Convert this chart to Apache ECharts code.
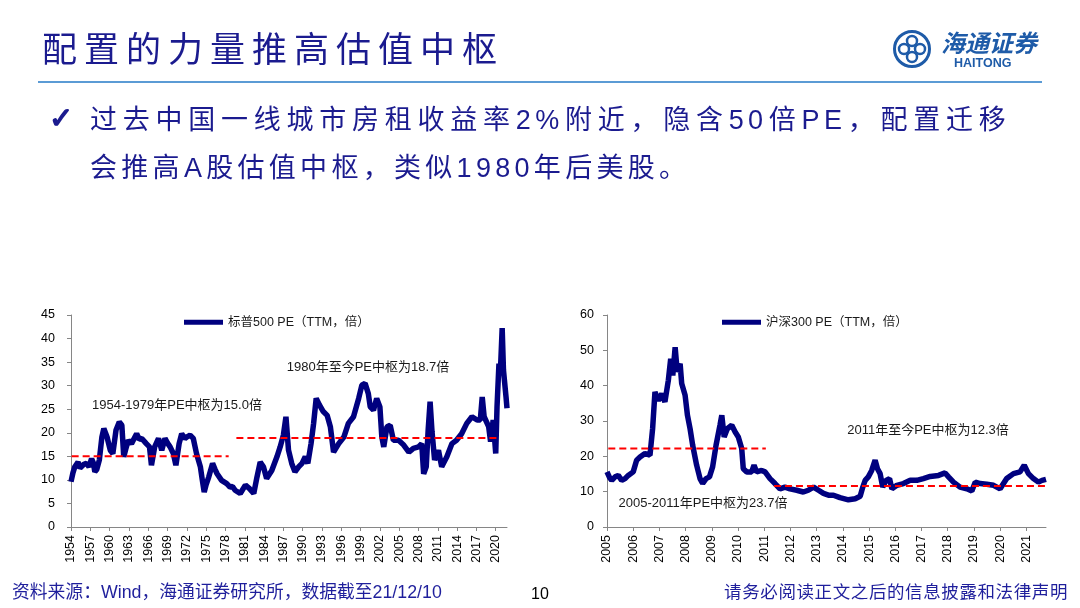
<!DOCTYPE html>
<html>
<head>
<meta charset="utf-8">
<script src="https://cdn.jsdelivr.net/npm/echarts@6/dist/echarts.min.js"></script>
<style>
  body { margin: 0; background: #fff; }
  #page { position: relative; width: 1080px; height: 608px; overflow: hidden; background: #fff; }
  #chart { position: absolute; left: 0; top: 0; width: 1080px; height: 608px; }
  .txt { position: absolute; white-space: nowrap; font-family: "Liberation Sans", "Noto Sans CJK SC", sans-serif; }
  #title { left: 42px; top: 30px; font-size: 35px; line-height: 40px; letter-spacing: 7px; color: #1b1b8f; }
  #rule { position: absolute; left: 38px; top: 81px; width: 1004px; height: 2px; background: #5b9bd5; }
  #check { left: 49px; top: 99px; font-size: 29px; line-height: 38px; font-weight: bold; color: #1b1b8f; -webkit-text-stroke: 1.4px #1b1b8f; font-family: "DejaVu Sans", sans-serif; }
  .bullet { font-size: 27px; line-height: 48px; letter-spacing: 4.3px; color: #1b1b8f; }
  #line1 { left: 90px; top: 96px; width: 920px; white-space: normal; text-align: justify; text-align-last: justify; }
  #line2 { left: 90px; top: 144px; }
  #source { left: 12px; top: 581px; font-size: 17.8px; line-height: 22px; color: #1f1f9c; }
  #pageno { left: 531px; top: 584px; font-size: 16px; line-height: 20px; color: #000; }
  #notice { right: 12px; top: 581px; font-size: 17.5px; line-height: 22px; letter-spacing: 0.6px; color: #1f1f9c; }
  #logoCn { left: 941px; top: 30px; font-size: 24px; line-height: 28px; font-style: italic; font-weight: bold; color: #1e5ba8; }
  #logoEn { left: 954px; top: 56px; font-size: 12.5px; line-height: 15px; font-weight: bold; color: #1e5ba8; }
  #logoMark { position: absolute; left: 892px; top: 29px; }
</style>
</head>
<body>
<div id="page">
  <div id="chart"></div>
  <div class="txt" id="title">配置的力量推高估值中枢</div>
  <div id="rule"></div>
  <svg id="logoMark" width="40" height="40" viewBox="0 0 40 40">
    <circle cx="20" cy="20" r="17.5" fill="none" stroke="#1e5ba8" stroke-width="3"/>
    <circle cx="20" cy="12" r="5" fill="none" stroke="#1e5ba8" stroke-width="2.5"/>
    <circle cx="20" cy="28" r="5" fill="none" stroke="#1e5ba8" stroke-width="2.5"/>
    <circle cx="12" cy="20" r="5" fill="none" stroke="#1e5ba8" stroke-width="2.5"/>
    <circle cx="28" cy="20" r="5" fill="none" stroke="#1e5ba8" stroke-width="2.5"/>
  </svg>
  <div class="txt" id="logoCn">海通证券</div>
  <div class="txt" id="logoEn">HAITONG</div>
  <div class="txt" id="check">✓</div>
  <div class="txt bullet" id="line1">过去中国一线城市房租收益率2%附近，隐含50倍PE，配置迁移</div>
  <div class="txt bullet" id="line2">会推高A股估值中枢，类似1980年后美股。</div>
  <div class="txt" id="source">资料来源：Wind，海通证券研究所，数据截至21/12/10</div>
  <div class="txt" id="pageno">10</div>
  <div class="txt" id="notice">请务必阅读正文之后的信息披露和法律声明</div>
</div>
<script>
// S&P 500 PE (TTM), decimal years
var spxYears = [1954.0, 1954.3, 1954.6, 1955.1, 1955.4, 1955.7, 1956.0, 1956.4, 1956.8, 1957.2, 1957.5, 1957.7, 1958.0, 1958.4,
  1958.8, 1959.1, 1959.6, 1960.1, 1960.5, 1961.0, 1961.5, 1961.9, 1962.2, 1962.5, 1962.9, 1963.4, 1964.2, 1964.6, 1965.0,
  1965.7, 1966.2, 1966.5, 1967.0, 1967.6, 1968.1, 1968.6, 1969.0, 1969.4, 1969.9, 1970.3, 1970.8, 1971.2, 1971.7, 1972.1,
  1972.5, 1973.0, 1973.5, 1974.1, 1974.4, 1974.7, 1975.0, 1975.4, 1976.0, 1976.4, 1976.7, 1977.4, 1978.2, 1978.7, 1979.1,
  1979.5, 1980.3, 1981.1, 1981.7, 1982.4, 1982.9, 1983.4, 1983.9, 1984.4, 1985.2, 1986.0, 1986.5, 1987.0, 1987.4, 1987.8,
  1988.3, 1988.8, 1989.4, 1989.9, 1990.4, 1990.8, 1991.3, 1991.7, 1992.1, 1992.6, 1993.2, 1993.8, 1994.3, 1994.8, 1995.6,
  1996.4, 1997.1, 1997.9, 1998.7, 1999.2, 1999.7, 2000.2, 2000.5, 2001.0, 2001.5, 2002.0, 2002.3, 2002.6, 2003.1, 2003.6,
  2004.1, 2004.9, 2005.7, 2006.5, 2007.2, 2008.0, 2008.5, 2008.8, 2009.2, 2009.5, 2009.8, 2010.1, 2010.5, 2011.1, 2011.6,
  2012.4, 2013.2, 2013.9, 2014.7, 2015.5, 2016.3, 2017.1, 2017.6, 2017.9, 2018.2, 2018.9, 2019.2, 2019.6, 2020.0, 2020.2,
  2020.5, 2020.7, 2021.0, 2021.2, 2021.6, 2021.75];
var spxPE = [9.6, 11.5, 12.8, 13.8, 12.5, 12.8, 13.3, 13.5, 12.8, 14.5, 13.5, 11.7, 12.2, 14.2,
  19.1, 20.9, 19.1, 16.3, 15.6, 20.6, 22.3, 21.6, 14.9, 16.5, 18.4, 17.7, 19.8, 18.6, 18.8,
  17.7, 17.0, 13.1, 17.0, 18.8, 16.3, 18.8, 17.8, 17.0, 15.6, 13.1, 17.7, 19.8, 18.8, 19.2,
  19.5, 18.8, 15.6, 12.8, 10.0, 7.4, 9.0, 10.6, 13.5, 12.2, 11.3, 9.9, 9.2, 8.5, 8.6,
  7.8, 7.1, 8.9, 8.2, 7.1, 10.6, 13.8, 12.8, 10.3, 12.0, 14.9, 17.0, 19.5, 23.4, 16.3,
  13.5, 11.7, 12.8, 13.5, 14.9, 13.5, 17.7, 22.0, 27.3, 25.9, 24.5, 23.7, 21.3, 15.9, 17.7,
  19.1, 22.0, 23.4, 27.3, 30.1, 30.5, 28.3, 25.5, 24.8, 27.3, 25.5, 19.1, 17.0, 21.3, 21.6,
  18.4, 18.4, 17.4, 15.9, 16.7, 17.0, 17.7, 11.3, 12.8, 20.6, 26.6, 20.2, 14.2, 16.3, 12.8,
  14.9, 17.7, 18.4, 19.8, 22.0, 23.4, 22.7, 22.7, 27.6, 23.4, 21.3, 18.1, 22.7, 15.6, 25.5,
  34.7, 32.2, 42.2, 33.3, 27.6, 25.2];

// CSI 300 PE (TTM), decimal years
var csiYears = [2005.0, 2005.1, 2005.18, 2005.31, 2005.43, 2005.56, 2005.69, 2005.81, 2006.0, 2006.13, 2006.26, 2006.45,
  2006.64, 2006.74, 2006.83, 2006.96, 2007.09, 2007.21, 2007.34, 2007.43, 2007.51, 2007.6, 2007.68, 2007.79, 2007.85,
  2007.98, 2008.07, 2008.17, 2008.27, 2008.42, 2008.55, 2008.65, 2008.78, 2008.91, 2009.03, 2009.16, 2009.31, 2009.38,
  2009.47, 2009.59, 2009.76, 2009.89, 2010.01, 2010.14, 2010.2, 2010.33, 2010.52, 2010.61, 2010.71, 2010.9, 2011.03,
  2011.22, 2011.41, 2011.6, 2011.79, 2011.98, 2012.24, 2012.49, 2012.68, 2012.88, 2013.07, 2013.26, 2013.45, 2013.64,
  2013.89, 2014.21, 2014.47, 2014.66, 2014.76, 2014.85, 2014.97, 2015.1, 2015.23, 2015.32, 2015.42, 2015.52, 2015.65,
  2015.78, 2015.87, 2016.06, 2016.31, 2016.57, 2016.82, 2017.07, 2017.33, 2017.65, 2017.9, 2018.03, 2018.22, 2018.47,
  2018.73, 2018.92, 2019.05, 2019.24, 2019.49, 2019.75, 2020.0, 2020.25, 2020.51, 2020.76, 2020.92, 2021.08, 2021.27,
  2021.46, 2021.6, 2021.75];
var csiPE = [15.6, 14.0, 13.2, 14.2, 14.6, 13.2, 13.7, 14.6, 15.6, 18.9, 19.8, 20.8,
  20.3, 27.8, 38.2, 35.8, 37.7, 35.4, 41.5, 47.6, 42.9, 50.9, 43.9, 46.2, 40.6,
  37.3, 31.6, 27.8, 23.1, 17.5, 13.7, 12.3, 13.7, 14.2, 17.0, 23.1, 28.8, 31.6,
  25.5, 27.8, 28.8, 26.9, 25.5, 22.2, 16.5, 15.6, 15.6, 17.5, 15.6, 16.0, 15.6,
  13.7, 12.3, 10.8, 11.3, 10.8, 10.4, 9.9, 10.4, 11.3, 10.4, 9.5, 9.0, 9.0,
  8.3, 7.7, 8.0, 8.7, 11.3, 13.2, 14.2, 16.0, 18.9, 16.5, 15.1, 11.3, 13.2,
  13.7, 10.8, 11.8, 12.3, 13.2, 13.2, 13.7, 14.3, 14.6, 15.3, 14.2, 12.7, 11.3,
  10.8, 10.2, 12.7, 12.3, 12.1, 11.8, 10.8, 13.7, 15.1, 15.6, 17.5, 15.1, 13.7,
  12.7, 13.2, 13.5];

// central PE levels drawn as dashed segments: [startYear, endYear, level]
var spxCenters = [[1954.1, 1978.5, 15.0], [1979.7, 2020.7, 18.9]];
var csiCenters = [[2005.05, 2011.06, 22.2], [2011.37, 2021.75, 11.6]];

var spxBase = 1954, spxEnd = 2021.75;
var csiBase = 2005, csiEnd = 2021.75;

var spxName = '标普500 PE（TTM，倍）';
var csiName = '沪深300 PE（TTM，倍）';

var navy = '#00007f';
var axisGray = '#868686';
var latin = '"Liberation Sans", "Noto Sans CJK SC", sans-serif';

function toPairs(years, values, base) {
  var out = [];
  for (var i = 0; i < years.length; i++) {
    out.push([years[i] - base, values[i]]);
  }
  return out;
}

function centerSeries(centers, base, axisIdx) {
  return centers.map(function (c) {
    return {
      type: 'line',
      xAxisIndex: axisIdx,
      yAxisIndex: axisIdx,
      data: [[c[0] - base, c[2]], [c[1] - base, c[2]]],
      showSymbol: false,
      silent: true,
      z: 4,
      lineStyle: { color: '#ff0000', width: 2, type: [7, 4] }
    };
  });
}

function xAxisFor(gridIdx, base, end, step) {
  return {
    type: 'value',
    gridIndex: gridIdx,
    min: 0,
    max: end - base,
    interval: step,
    splitLine: { show: false },
    axisLine: { lineStyle: { color: axisGray } },
    axisTick: { length: 4, lineStyle: { color: axisGray } },
    axisLabel: {
      rotate: 90,
      margin: 8,
      fontSize: 12.5,
      color: '#000',
      fontFamily: latin,
      showMaxLabel: false,
      formatter: function (v) {
        return Math.abs(v - Math.round(v)) < 1e-6 ? String(base + Math.round(v)) : '';
      }
    }
  };
}

function yAxisFor(gridIdx, max, step, margin) {
  return {
    type: 'value',
    gridIndex: gridIdx,
    min: 0,
    max: max,
    interval: step,
    splitLine: { show: false },
    axisLine: { show: true, lineStyle: { color: axisGray } },
    axisTick: { show: true, length: 4, lineStyle: { color: axisGray } },
    axisLabel: { margin: margin, fontSize: 12.5, color: '#000', fontFamily: latin }
  };
}

function note(text, x, y) {
  return {
    type: 'text',
    x: x,
    y: y,
    style: {
      text: text,
      fill: '#1a1a1a',
      font: '13px ' + latin,
      align: 'center',
      verticalAlign: 'middle'
    }
  };
}

var chart = echarts.init(document.getElementById('chart'));

var series = [
  {
    name: spxName,
    type: 'line',
    xAxisIndex: 0,
    yAxisIndex: 0,
    data: toPairs(spxYears, spxPE, spxBase),
    showSymbol: false,
    color: navy,
    lineStyle: { color: navy, width: 5.5 },
    z: 3
  },
  {
    name: csiName,
    type: 'line',
    xAxisIndex: 1,
    yAxisIndex: 1,
    data: toPairs(csiYears, csiPE, csiBase),
    showSymbol: false,
    color: navy,
    lineStyle: { color: navy, width: 5.5 },
    z: 3
  }
].concat(centerSeries(spxCenters, spxBase, 0), centerSeries(csiCenters, csiBase, 1));

chart.setOption({
  animation: false,
  grid: [
    { left: 71, top: 315, width: 436, height: 212 },
    { left: 607, top: 315, width: 439, height: 212 }
  ],
  xAxis: [
    xAxisFor(0, spxBase, spxEnd, 3),
    xAxisFor(1, csiBase, csiEnd, 1)
  ],
  yAxis: [
    yAxisFor(0, 45, 5, 16),
    yAxisFor(1, 60, 10, 13)
  ],
  legend: [
    {
      data: [spxName], left: 184, top: 316, padding: 0,
      icon: 'rect', itemWidth: 39, itemHeight: 5,
      textStyle: { fontSize: 12.5, color: '#1a1a1a', fontFamily: latin }
    },
    {
      data: [csiName], left: 722, top: 316, padding: 0,
      icon: 'rect', itemWidth: 39, itemHeight: 5,
      textStyle: { fontSize: 12.5, color: '#1a1a1a', fontFamily: latin }
    }
  ],
  graphic: [
    note('1954-1979年PE中枢为15.0倍', 177, 405),
    note('1980年至今PE中枢为18.7倍', 368, 367),
    note('2011年至今PE中枢为12.3倍', 928, 430),
    note('2005-2011年PE中枢为23.7倍', 703, 503)
  ],
  series: series
});
</script>
</body>
</html>
